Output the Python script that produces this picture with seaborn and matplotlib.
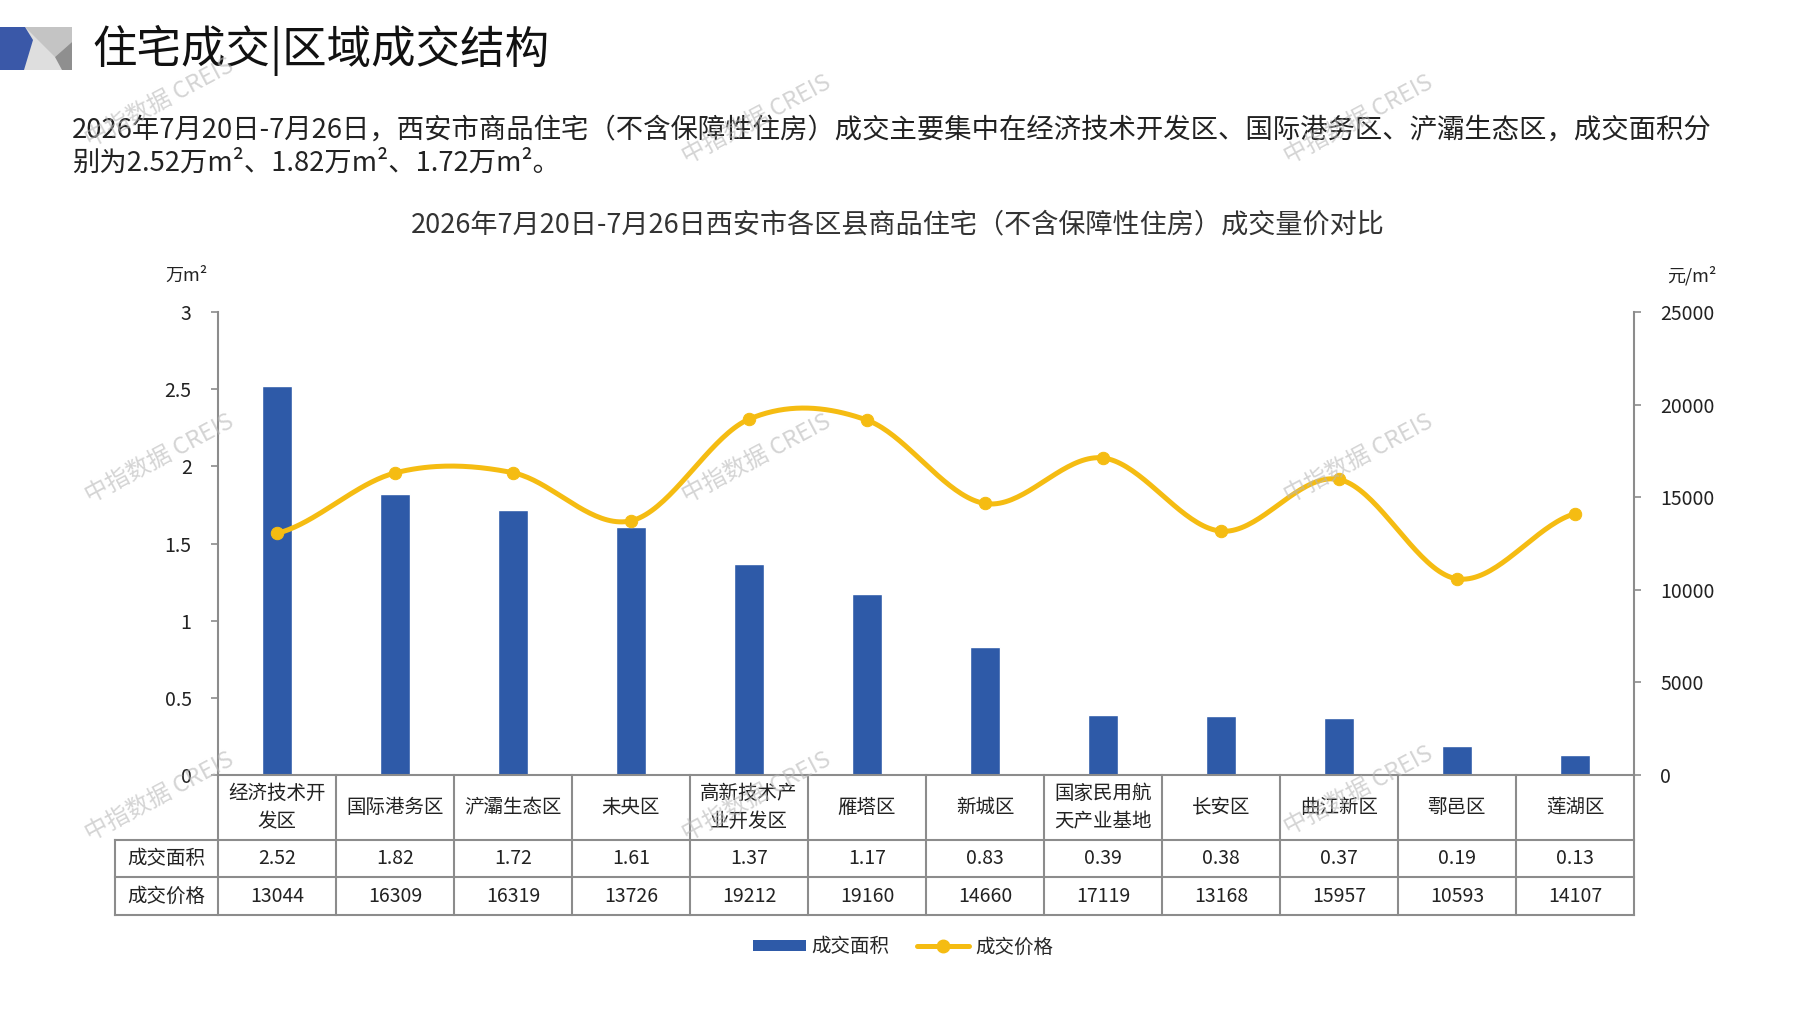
import numpy as np
import pandas as pd
import matplotlib
matplotlib.use('Agg')
import matplotlib.pyplot as plt
import matplotlib.transforms as mtransforms
from matplotlib.patches import Polygon, Patch
from matplotlib.lines import Line2D
import seaborn as sns

# ---------------- data ----------------
districts = ['经济技术开\n发区', '国际港务区', '浐灞生态区', '未央区', '高新技术产\n业开发区', '雁塔区',
             '新城区', '国家民用航\n天产业基地', '长安区', '曲江新区', '鄠邑区', '莲湖区']
area_values = [2.52, 1.82, 1.72, 1.61, 1.37, 1.17, 0.83, 0.39, 0.38, 0.37, 0.19, 0.13]
price_values = [13044, 16309, 16319, 13726, 19212, 19160, 14660, 17119, 13168, 15957, 10593, 14107]
row_labels = ['成交面积', '成交价格']
left_ticks = [0, 0.5, 1, 1.5, 2, 2.5, 3]
right_ticks = [0, 5000, 10000, 15000, 20000, 25000]

title_text = '住宅成交|区域成交结构'
chart_title = '2026年7月20日-7月26日西安市各区县商品住宅（不含保障性住房）成交量价对比'
para_line1 = '2026年7月20日-7月26日，西安市商品住宅（不含保障性住房）成交主要集中在经济技术开发区、国际港务区、浐灞生态区，成交面积分'
para_line2 = '别为{:.2f}万m²、{:.2f}万m²、{:.2f}万m²。'.format(area_values[0], area_values[1], area_values[2])
watermark = '中指数据 CREIS'

# ---------------- style ----------------
BLUE = '#2E5AA8'
GOLD = '#F5BC12'
GRAY = '#8C8C8C'
TXT = '#222222'

sns.set_style('white')
plt.rcParams['font.family'] = ['Noto Sans CJK SC', 'DejaVu Sans']
plt.rcParams['axes.unicode_minus'] = False

W, H = 1797, 1010
fig = plt.figure(figsize=(W / 100, H / 100), dpi=100)
fig.patch.set_facecolor('white')


def fx(px):
    return px / W


def fy(py):
    return 1 - py / H


AX_L, AX_R, AX_T, AX_B = 218, 1634, 312, 775
ax = fig.add_axes([fx(AX_L), fy(AX_B), (AX_R - AX_L) / W, (AX_B - AX_T) / H])

df = pd.DataFrame({'pos': np.arange(len(districts)), 'area': area_values, 'price': price_values})
sns.barplot(data=df, x='pos', y='area', ax=ax, color=BLUE, width=0.25, saturation=1, zorder=2)
n = len(districts)
ax.set_xlim(-0.5, n - 0.5)
ax.set_ylim(0, 3)
ax.set_xticks([])
ax.set_xlabel('')
ax.set_ylabel('')
ax.set_yticks(left_ticks)
ax.set_yticklabels(['%g' % v for v in left_ticks])
ax.tick_params(axis='y', length=5, width=1.2, color=GRAY, pad=14, labelsize=14, labelcolor=TXT)
for s in ['top', 'right']:
    ax.spines[s].set_visible(False)
for s in ['left', 'bottom']:
    ax.spines[s].set_color(GRAY)
    ax.spines[s].set_linewidth(1.5)

ax2 = ax.twinx()
ax2.set_ylim(0, 25000)
ax2.set_yticks(right_ticks)
ax2.set_yticklabels([str(v) for v in right_ticks])
ax2.tick_params(axis='y', length=5, width=1.2, color=GRAY, pad=14, labelsize=14, labelcolor=TXT)
for s in ['top', 'left', 'bottom']:
    ax2.spines[s].set_visible(False)
ax2.spines['right'].set_color(GRAY)
ax2.spines['right'].set_linewidth(1.5)
ax2.set_xlim(-0.5, n - 0.5)

# smoothed price line (Catmull-Rom through the data points)
xp = np.arange(n, dtype=float)
yp = np.array(price_values, dtype=float)
m = np.zeros(n)
m[1:-1] = (yp[2:] - yp[:-2]) / 2
m[0] = (yp[1] - yp[0]) / 2
m[-1] = (yp[-1] - yp[-2]) / 2
xs, ys = [], []
for i in range(n - 1):
    t = np.linspace(0, 1, 40, endpoint=(i == n - 2))
    h00 = 2 * t**3 - 3 * t**2 + 1
    h10 = t**3 - 2 * t**2 + t
    h01 = -2 * t**3 + 3 * t**2
    h11 = t**3 - t**2
    xs.extend(xp[i] + t)
    ys.extend(h00 * yp[i] + h10 * m[i] + h01 * yp[i + 1] + h11 * m[i + 1])
sns.lineplot(x=np.array(xs), y=np.array(ys), ax=ax2, color=GOLD, linewidth=3.6,
             sort=False, estimator=None, legend=False, zorder=3)
sns.scatterplot(x=xp, y=yp, ax=ax2, color=GOLD, edgecolor=GOLD, s=80, legend=False, zorder=4)
ax2.set_ylabel('')
ax2.set_ylim(0, 25000)

# ---------------- data table ----------------
trans = mtransforms.blended_transform_factory(ax.transData, ax.transAxes)
axh = AX_B - AX_T
cw = (AX_R - AX_L) / n
row_y = [0, -(840 - AX_B) / axh, -(877 - AX_B) / axh, -(915 - AX_B) / axh]
col_left = -0.5 - (AX_L - 115) / cw
lkw = dict(color=GRAY, linewidth=1.5, transform=trans, clip_on=False, solid_capstyle='projecting')
for k in range(n + 1):
    ax.add_line(Line2D([k - 0.5, k - 0.5], [row_y[0], row_y[3]], **lkw))
ax.add_line(Line2D([col_left, col_left], [row_y[1], row_y[3]], **lkw))
for yy in row_y[1:]:
    ax.add_line(Line2D([col_left, n - 0.5], [yy, yy], **lkw))

for i, name in enumerate(districts):
    ax.text(i, (row_y[0] + row_y[1]) / 2, name, transform=trans, ha='center', va='center',
            fontsize=14, color=TXT, linespacing=1.45)
    ax.text(i, (row_y[1] + row_y[2]) / 2, '%.2f' % area_values[i], transform=trans, ha='center',
            va='center', fontsize=14, color=TXT)
    ax.text(i, (row_y[2] + row_y[3]) / 2, str(price_values[i]), transform=trans, ha='center',
            va='center', fontsize=14, color=TXT)
for r, lab in enumerate(row_labels):
    ax.text((col_left - 0.5) / 2, (row_y[r + 1] + row_y[r + 2]) / 2, lab, transform=trans,
            ha='center', va='center', fontsize=14, color=TXT)

# ---------------- texts ----------------
fig.text(fx(92), fy(50), title_text, fontsize=32, color='#111111', ha='left', va='center')
fig.text(fx(72), fy(130), para_line1, fontsize=19.7, color=TXT, ha='left', va='center')
fig.text(fx(72), fy(163), para_line2, fontsize=19.7, color=TXT, ha='left', va='center')
fig.text(fx(898), fy(225), chart_title, fontsize=19.5, color='#333333', ha='center', va='center')
fig.text(fx(186), fy(276), '万m²', fontsize=13, color=TXT, ha='center', va='center')
fig.text(fx(1692), fy(276), '元/m²', fontsize=13, color=TXT, ha='center', va='center')

# logo
logo = [
    ([(0, 27), (72, 27), (72, 70), (0, 70)], '#DEDEDE'),
    ([(25, 27), (72, 27), (72, 42), (55, 57)], '#C4C4C4'),
    ([(55, 57), (72, 42), (72, 70), (62, 70)], '#8F8F8F'),
    ([(0, 27), (25, 27), (33, 40), (24, 70), (0, 70)], '#3A58A8'),
]
for pts, col in logo:
    fig.add_artist(Polygon([(fx(a), fy(b)) for a, b in pts], closed=True, facecolor=col,
                           edgecolor='none', transform=fig.transFigure))

# legend
handles = [Patch(facecolor=BLUE, edgecolor='none'),
           Line2D([0], [0], color=GOLD, linewidth=3.6, marker='o', markersize=9)]
fig.legend(handles, row_labels, loc='center', bbox_to_anchor=(fx(903), fy(947)), ncol=2,
           frameon=False, fontsize=14, handlelength=2.7, handleheight=0.45, columnspacing=1.4,
           handletextpad=0.3)

# watermarks
for wx, wy in [(160, 103), (757, 120), (1359, 120), (160, 459), (757, 459), (1359, 459),
               (160, 797), (757, 797), (1359, 791)]:
    fig.text(fx(wx), fy(wy), watermark, fontsize=17, color='#B8B8B8', alpha=0.6, rotation=28,
             ha='center', va='center', zorder=10)

fig.savefig('out.png', dpi=100, facecolor='white')
